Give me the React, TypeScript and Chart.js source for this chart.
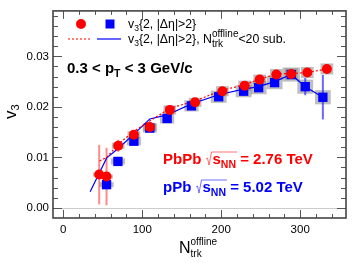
import React, { useEffect, useRef } from 'react';
import { Chart, registerables } from 'chart.js';
Chart.register(...registerables);

// ---------- data ----------
const pbpbN = [45.5, 54.8, 69.5, 89.4, 109.6, 134.9, 166.9, 201.5, 229.7, 248.7, 269.8, 288.7, 309.0, 333.8];
const pbpbV3 = [0.0066, 0.0062, 0.0123, 0.0145, 0.0160, 0.0194, 0.0209, 0.0231, 0.0242, 0.0254, 0.0264, 0.0265, 0.0268, 0.0275];
const pbpbStat = [0.0059, 0.0057, 0.0012, 0.0006, 0.0004, 0.0004, 0.0003, 0.0003, 0.0003, 0.0003, 0.0003, 0.0003, 0.0003, 0.0003];
const pbpbSysN = [8, 8, 8, 8, 8, 8, 8, 8, 8, 8, 8, 8, 8, 8];
const pbpbSysV = [0.0004, 0.0004, 0.0006, 0.0007, 0.0008, 0.0009, 0.0009, 0.0010, 0.0010, 0.0010, 0.0011, 0.0011, 0.0011, 0.0011];

const ppbN = [54.8, 69.2, 89.4, 109.6, 131.5, 162.3, 196.8, 228.4, 247.4, 267.6, 288.7, 306.4, 328.7];
const ppbV3 = [0.0046, 0.0092, 0.0132, 0.0158, 0.0177, 0.0202, 0.0220, 0.0231, 0.0238, 0.0248, 0.0264, 0.0240, 0.0219];
const ppbStat = [0.0004, 0.0003, 0.0003, 0.0003, 0.0003, 0.0003, 0.0003, 0.0004, 0.0004, 0.0005, 0.0006, 0.0017, 0.0044];
const ppbSysN = [9, 9, 9, 9, 9, 9, 10, 10, 10, 10, 11, 10, 10];
const ppbSysV = [0.0005, 0.0006, 0.0008, 0.0009, 0.0010, 0.0011, 0.0012, 0.0012, 0.0013, 0.0013, 0.0014, 0.0014, 0.0014];

const pbpbSubN = [46, 55, 69.5, 89.4, 109.6, 134.9, 166.9, 201.5, 229.7, 248.7, 269.8, 288.7, 309.0, 333.8];
const pbpbSubV3 = [0.0093, 0.0100, 0.0126, 0.0152, 0.0172, 0.0197, 0.0212, 0.0233, 0.0244, 0.0255, 0.0265, 0.0266, 0.0268, 0.0275];
const ppbSubN = [34, 55, 69.2, 89.4, 109.6, 131.5, 162.3, 196.8, 228.4, 247.4, 267.6, 288.7, 306.4, 328.7];
const ppbSubV3 = [0.0032, 0.0099, 0.0117, 0.0146, 0.0176, 0.0184, 0.0206, 0.0224, 0.0235, 0.0240, 0.0250, 0.0264, 0.0240, 0.0219];

const xTickVals = [0, 100, 200, 300];
const xTickLabels = ['0', '100', '200', '300'];
const yTickVals = [0, 0.01, 0.02, 0.03];
const yTickLabels = ['0.00', '0.01', '0.02', '0.03'];
const xRange = [-13, 358];
const yRange = [-0.002, 0.039];

const FONT = '"Liberation Sans", Arial, Helvetica, sans-serif';
const RED = '#ff0000';
const BLUE = '#0000ff';

type Part = { t?: string; size?: number; bold?: boolean; dy?: number; sqrt?: number; stack?: { t: string; dy: number }[] };

function drawParts(ctx: CanvasRenderingContext2D, parts: Part[], x: number, y: number, color: string) {
  let cx = x;
  ctx.fillStyle = color;
  ctx.strokeStyle = color;
  ctx.textBaseline = 'alphabetic';
  ctx.textAlign = 'left';
  for (let i = 0; i < parts.length; i++) {
    const p = parts[i];
    const font = `${p.bold ? 'bold ' : ''}${p.size}px ${FONT}`;
    if (p.sqrt !== undefined) {
      let w = 0;
      for (let j = 1; j <= p.sqrt; j++) {
        const q = parts[i + j];
        ctx.font = `${q.bold ? 'bold ' : ''}${q.size}px ${FONT}`;
        w += ctx.measureText(q.t || '').width;
      }
      ctx.save();
      ctx.lineWidth = 0.8;
      ctx.globalAlpha = 0.7;
      ctx.beginPath();
      ctx.moveTo(cx + 0.5, y - 5);
      ctx.lineTo(cx + 2, y - 6);
      ctx.lineTo(cx + 3.5, y + 1);
      ctx.lineTo(cx + 6, y - 12);
      ctx.lineTo(cx + 7 + w + 1, y - 12);
      ctx.stroke();
      ctx.restore();
      cx += 7;
      continue;
    }
    ctx.font = font;
    if (p.stack) {
      let mw = 0;
      for (const s of p.stack) {
        ctx.fillText(s.t, cx, y + s.dy);
        mw = Math.max(mw, ctx.measureText(s.t).width);
      }
      cx += mw;
      continue;
    }
    ctx.fillText(p.t || '', cx, y + (p.dy || 0));
    cx += ctx.measureText(p.t || '').width;
  }
  return cx;
}

const overlayPlugin = {
  id: 'overlay',
  beforeDatasetsDraw(chart: any) {
    const ctx: CanvasRenderingContext2D = chart.ctx;
    const xs = chart.scales.x;
    const ys = chart.scales.y;
    const ca = chart.chartArea;
    ctx.save();
    ctx.beginPath();
    ctx.rect(ca.left, ca.top, ca.right - ca.left, ca.bottom - ca.top);
    ctx.clip();
    ctx.strokeStyle = '#cccccc';
    ctx.lineWidth = 1;
    ctx.beginPath();
    const y0 = Math.round(ys.getPixelForValue(0)) + 0.5;
    ctx.moveTo(ca.left, y0);
    ctx.lineTo(ca.right, y0);
    ctx.stroke();
    ctx.fillStyle = 'rgba(110,110,110,0.45)';
    const box = (n: number, v: number, dn: number, dv: number) => {
      const x1 = xs.getPixelForValue(n - dn);
      const x2 = xs.getPixelForValue(n + dn);
      const y1 = ys.getPixelForValue(v + dv);
      const y2 = ys.getPixelForValue(v - dv);
      ctx.fillRect(x1, y1, x2 - x1, y2 - y1);
    };
    ppbN.forEach((n, i) => box(n, ppbV3[i], ppbSysN[i], ppbSysV[i]));
    pbpbN.forEach((n, i) => box(n, pbpbV3[i], pbpbSysN[i], pbpbSysV[i]));
    const bar = (n: number, v: number, e: number, col: string) => {
      const x = xs.getPixelForValue(n);
      ctx.strokeStyle = col;
      ctx.lineWidth = 2;
      ctx.beginPath();
      ctx.moveTo(x, ys.getPixelForValue(v + e));
      ctx.lineTo(x, ys.getPixelForValue(v - e));
      ctx.stroke();
    };
    ppbN.forEach((n, i) => bar(n, ppbV3[i], ppbStat[i], 'rgba(40,40,255,0.7)'));
    pbpbN.forEach((n, i) => bar(n, pbpbV3[i], pbpbStat[i], 'rgba(255,60,60,0.6)'));
    ctx.restore();
  },
  afterDraw(chart: any) {
    const ctx: CanvasRenderingContext2D = chart.ctx;
    const xs = chart.scales.x;
    const ys = chart.scales.y;
    const ca = chart.chartArea;
    ctx.save();
    ctx.strokeStyle = '#555555';
    ctx.lineWidth = 1;
    ctx.beginPath();
    for (let v = 0; v <= xRange[1]; v += 20) {
      const x = Math.round(xs.getPixelForValue(v)) + 0.5;
      const L = v % 100 === 0 ? 8 : 4;
      ctx.moveTo(x, ca.bottom);
      ctx.lineTo(x, ca.bottom - L);
      ctx.moveTo(x, ca.top);
      ctx.lineTo(x, ca.top + L);
    }
    for (let k = 0; k <= 19; k++) {
      const v = k * 0.002;
      const y = Math.round(ys.getPixelForValue(v)) + 0.5;
      const L = k % 5 === 0 ? 9 : 5;
      ctx.moveTo(ca.left, y);
      ctx.lineTo(ca.left + L, y);
      ctx.moveTo(ca.right, y);
      ctx.lineTo(ca.right - L, y);
    }
    ctx.stroke();
    ctx.lineWidth = 1.6;
    ctx.strokeStyle = '#444444';
    ctx.strokeRect(ca.left, ca.top, ca.right - ca.left, ca.bottom - ca.top);

    // legend
    ctx.fillStyle = RED;
    ctx.beginPath();
    ctx.arc(81, 24, 5, 0, Math.PI * 2);
    ctx.fill();
    ctx.fillStyle = BLUE;
    ctx.fillRect(105.5, 19.5, 9, 9);
    ctx.strokeStyle = RED;
    ctx.lineWidth = 1.2;
    ctx.setLineDash([2, 2]);
    ctx.beginPath();
    ctx.moveTo(68, 39);
    ctx.lineTo(91, 39);
    ctx.stroke();
    ctx.setLineDash([]);
    ctx.strokeStyle = BLUE;
    ctx.beginPath();
    ctx.moveTo(97, 39);
    ctx.lineTo(121, 39);
    ctx.stroke();
    drawParts(ctx, [
      { t: 'v', size: 12.3 },
      { t: '3', size: 8.5, dy: 3 },
      { t: '{2, |Δη|>2}', size: 12.3 },
    ], 128, 28, '#000');
    drawParts(ctx, [
      { t: 'v', size: 12.3 },
      { t: '3', size: 8.5, dy: 3 },
      { t: '{2, |Δη|>2}, N', size: 12.3 },
      { size: 10, stack: [{ t: 'offline', dy: -6 }, { t: 'trk', dy: 4 }] },
      { t: '<20 sub.', size: 12.3 },
    ], 128, 43, '#000');

    drawParts(ctx, [
      { t: '0.3 < p', size: 15, bold: true },
      { t: 'T', size: 10.5, bold: true, dy: 4 },
      { t: ' < 3 GeV/c', size: 15, bold: true },
    ], 67, 73, '#000');

    drawParts(ctx, [
      { t: 'PbPb ', size: 15, bold: true },
      { sqrt: 2 },
      { t: 's', size: 15, bold: true },
      { t: 'NN', size: 10.5, bold: true, dy: 4 },
      { t: ' = 2.76 TeV', size: 15, bold: true },
    ], 163, 164, RED);
    drawParts(ctx, [
      { t: 'pPb ', size: 15, bold: true },
      { sqrt: 2 },
      { t: 's', size: 15, bold: true },
      { t: 'NN', size: 10.5, bold: true, dy: 4 },
      { t: ' = 5.02 TeV', size: 15, bold: true },
    ], 163, 192, BLUE);

    drawParts(ctx, [
      { t: 'N', size: 16 },
      { size: 10, stack: [{ t: 'offline', dy: -8 }, { t: 'trk', dy: 4 }] },
    ], 179, 253, '#000');

    ctx.save();
    ctx.translate(16, 119);
    ctx.rotate(-Math.PI / 2);
    drawParts(ctx, [
      { t: 'v', size: 17 },
      { t: '3', size: 11, dy: 3 },
    ], 0, 0, '#000');
    ctx.restore();

    ctx.restore();
  },
};

export default function App() {
  const ref = useRef<HTMLCanvasElement | null>(null);
  useEffect(() => {
    if (!ref.current) return;
    const toXY = (xs: number[], ys: number[]) => xs.map((x, i) => ({ x, y: ys[i] }));
    const chart = new Chart(ref.current, {
      type: 'scatter',
      data: {
        datasets: [
          {
            label: 'PbPb',
            data: toXY(pbpbN, pbpbV3),
            pointStyle: 'circle',
            pointRadius: 5,
            pointBackgroundColor: RED,
            pointBorderWidth: 0,
            borderColor: RED,
            showLine: false,
            order: 0,
          },
          {
            label: 'pPb',
            data: toXY(ppbN, ppbV3),
            pointStyle: 'rect',
            pointRadius: 6.6,
            pointBackgroundColor: BLUE,
            pointBorderWidth: 0,
            borderColor: BLUE,
            showLine: false,
            order: 1,
          },
          {
            label: 'PbPb sub',
            data: toXY(pbpbSubN, pbpbSubV3),
            showLine: true,
            borderColor: RED,
            borderWidth: 1.2,
            borderDash: [2, 2],
            pointRadius: 0,
            order: 2,
          },
          {
            label: 'pPb sub',
            data: toXY(ppbSubN, ppbSubV3),
            showLine: true,
            borderColor: BLUE,
            borderWidth: 1.2,
            pointRadius: 0,
            order: 3,
          },
        ],
      },
      options: {
        animation: false,
        responsive: false,
        devicePixelRatio: 1,
        layout: { padding: { top: 8, right: 8, left: 0, bottom: 0 } },
        plugins: { legend: { display: false }, tooltip: { enabled: false } },
        scales: {
          x: {
            type: 'linear',
            min: xRange[0],
            max: xRange[1],
            grid: { display: false, drawTicks: false },
            border: { display: false },
            afterBuildTicks: (s: any) => { s.ticks = xTickVals.map((v) => ({ value: v })); },
            afterFit: (s: any) => { s.height = 45; },
            ticks: {
              padding: 5,
              color: '#000',
              font: { family: FONT, size: 11.5 },
              maxRotation: 0,
              callback: (v: any) => xTickLabels[xTickVals.indexOf(Number(v))] ?? '',
            },
          },
          y: {
            type: 'linear',
            min: yRange[0],
            max: yRange[1],
            grid: { display: false, drawTicks: false },
            border: { display: false },
            afterBuildTicks: (s: any) => { s.ticks = yTickVals.map((v) => ({ value: v })); },
            afterFit: (s: any) => { s.width = 53; },
            ticks: {
              padding: 4,
              color: '#000',
              font: { family: FONT, size: 11.5 },
              callback: (v: any) => {
                const i = yTickVals.findIndex((t) => Math.abs(t - Number(v)) < 1e-9);
                return i >= 0 ? yTickLabels[i] : '';
              },
            },
          },
        },
      },
      plugins: [overlayPlugin],
    });
    return () => chart.destroy();
  }, []);
  return (
    <div style={{ position: 'absolute', left: 0, top: 0, width: 354, height: 263, background: '#fff' }}>
      <canvas ref={ref} width={354} height={263} style={{ display: 'block', width: 354, height: 263 }} />
    </div>
  );
}
